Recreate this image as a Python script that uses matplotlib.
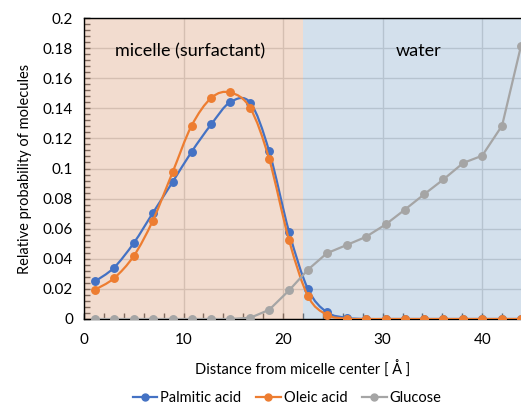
import numpy as np
import matplotlib
matplotlib.use("Agg")
import matplotlib.pyplot as plt
from matplotlib.path import Path
from matplotlib.patches import PathPatch
from matplotlib.lines import Line2D
from matplotlib.ticker import MultipleLocator, FuncFormatter

plt.rcParams['font.family'] = ['Lato', 'DejaVu Sans']

distance = [1.1, 3.0, 5.0, 6.9, 8.9, 10.8, 12.8, 14.7, 16.7, 18.6, 20.6, 22.5,
            24.4, 26.4, 28.3, 30.3, 32.2, 34.2, 36.1, 38.1, 40.0, 42.0, 43.9]
palmitic = [0.025, 0.034, 0.0505, 0.0703, 0.091, 0.111, 0.1295, 0.1441, 0.1437,
            0.1115, 0.0579, 0.0199, 0.0045, 0.0008, 0, 0, 0, 0, 0, 0, 0, 0, 0]
oleic = [0.0195, 0.027, 0.0419, 0.0652, 0.0975, 0.1283, 0.147, 0.1505, 0.1401,
         0.1063, 0.0523, 0.0152, 0.0028, 0.0002, 0, 0, 0, 0, 0, 0, 0, 0, 0]
glucose = [0, 0, 0, 0, 0, 0, 0, 0, 0.0008, 0.0061, 0.019, 0.0328, 0.0437, 0.0492,
           0.0545, 0.0628, 0.0725, 0.083, 0.0927, 0.1037, 0.1085, 0.1285, 0.1815]
series = [("Palmitic acid", palmitic, "#4472C4", True),
          ("Oleic acid", oleic, "#ED7D31", True),
          ("Glucose", glucose, "#A5A5A5", False)]
micelle_edge = 22
x_end = 43.9


def smooth_path(xs, ys):
    # bezier segments like excel's "smoothed line"
    p = np.column_stack([xs, ys])
    verts = [p[0]]
    codes = [Path.MOVETO]
    n = len(p)
    for i in range(n - 1):
        p0 = p[i - 1] if i > 0 else p[i]
        p3 = p[i + 2] if i + 2 < n else p[i + 1]
        c1 = p[i] + (p[i + 1] - p0) / 6
        c2 = p[i + 1] - (p3 - p[i]) / 6
        verts += [c1, c2, p[i + 1]]
        codes += [Path.CURVE4] * 3
    return Path(verts, codes)


fig = plt.figure(figsize=(5.21, 4.07), dpi=100)
ax = fig.add_axes([84 / 521, 1 - 319 / 407, 1 - 84 / 521, 301 / 407])

ax.set_axisbelow(True)
ax.grid(True, which='major', color='#BFBFBF', lw=1)
ax.axvspan(0, micelle_edge, color='#E8C0A8', alpha=0.55, lw=0, zorder=1)
ax.axvspan(micelle_edge, x_end, color='#B0C8DE', alpha=0.55, lw=0, zorder=1)

for name, ys, col, smooth in series:
    if smooth:
        ax.add_patch(PathPatch(smooth_path(distance, ys), fill=False,
                               edgecolor=col, lw=1.6, zorder=3))
        ax.plot(distance, ys, 'o', color=col, ms=5.4, zorder=3)
    else:
        ax.plot(distance, ys, '-o', color=col, lw=1.6, ms=5.4, zorder=3)

ax.set_xlim(0, x_end)
ax.set_ylim(0, 0.2)
ax.xaxis.set_major_locator(MultipleLocator(10))
ax.xaxis.set_minor_locator(MultipleLocator(2))
ax.yaxis.set_major_locator(MultipleLocator(0.02))
ax.yaxis.set_minor_locator(MultipleLocator(0.004))
ax.yaxis.set_major_formatter(FuncFormatter(lambda v, p: f"{round(v, 3):g}"))
ax.tick_params(which='both', direction='in', length=4, width=1, labelsize=11)
ax.tick_params(axis='x', pad=10)
ax.tick_params(axis='y', pad=8)
ax.spines['right'].set_visible(False)
for s in ['left', 'bottom', 'top']:
    ax.spines[s].set_color('black')
    ax.spines[s].set_linewidth(1)

ax.set_xlabel('Distance from micelle center [ Å ]', fontsize=10.5, labelpad=10)
ax.set_ylabel('Relative probability of molecules', fontsize=10.5, labelpad=8)

ax.text(10.7, 0.178, 'micelle (surfactant)', fontsize=13, ha='center', va='center', zorder=4)
ax.text(33.6, 0.178, 'water', fontsize=13, ha='center', va='center', zorder=4)

handles = [Line2D([], [], color=c, marker='o', lw=1.6, ms=5) for _, _, c, _ in series]
fig.legend(handles, [s[0] for s in series], loc='center', ncol=3, frameon=False,
           bbox_to_anchor=(287 / 521, 1 - 398 / 407), fontsize=10.5,
           handlelength=1.7, handletextpad=0.2, columnspacing=1.0,
           borderpad=0.1)

fig.savefig('out.png', dpi=100)
